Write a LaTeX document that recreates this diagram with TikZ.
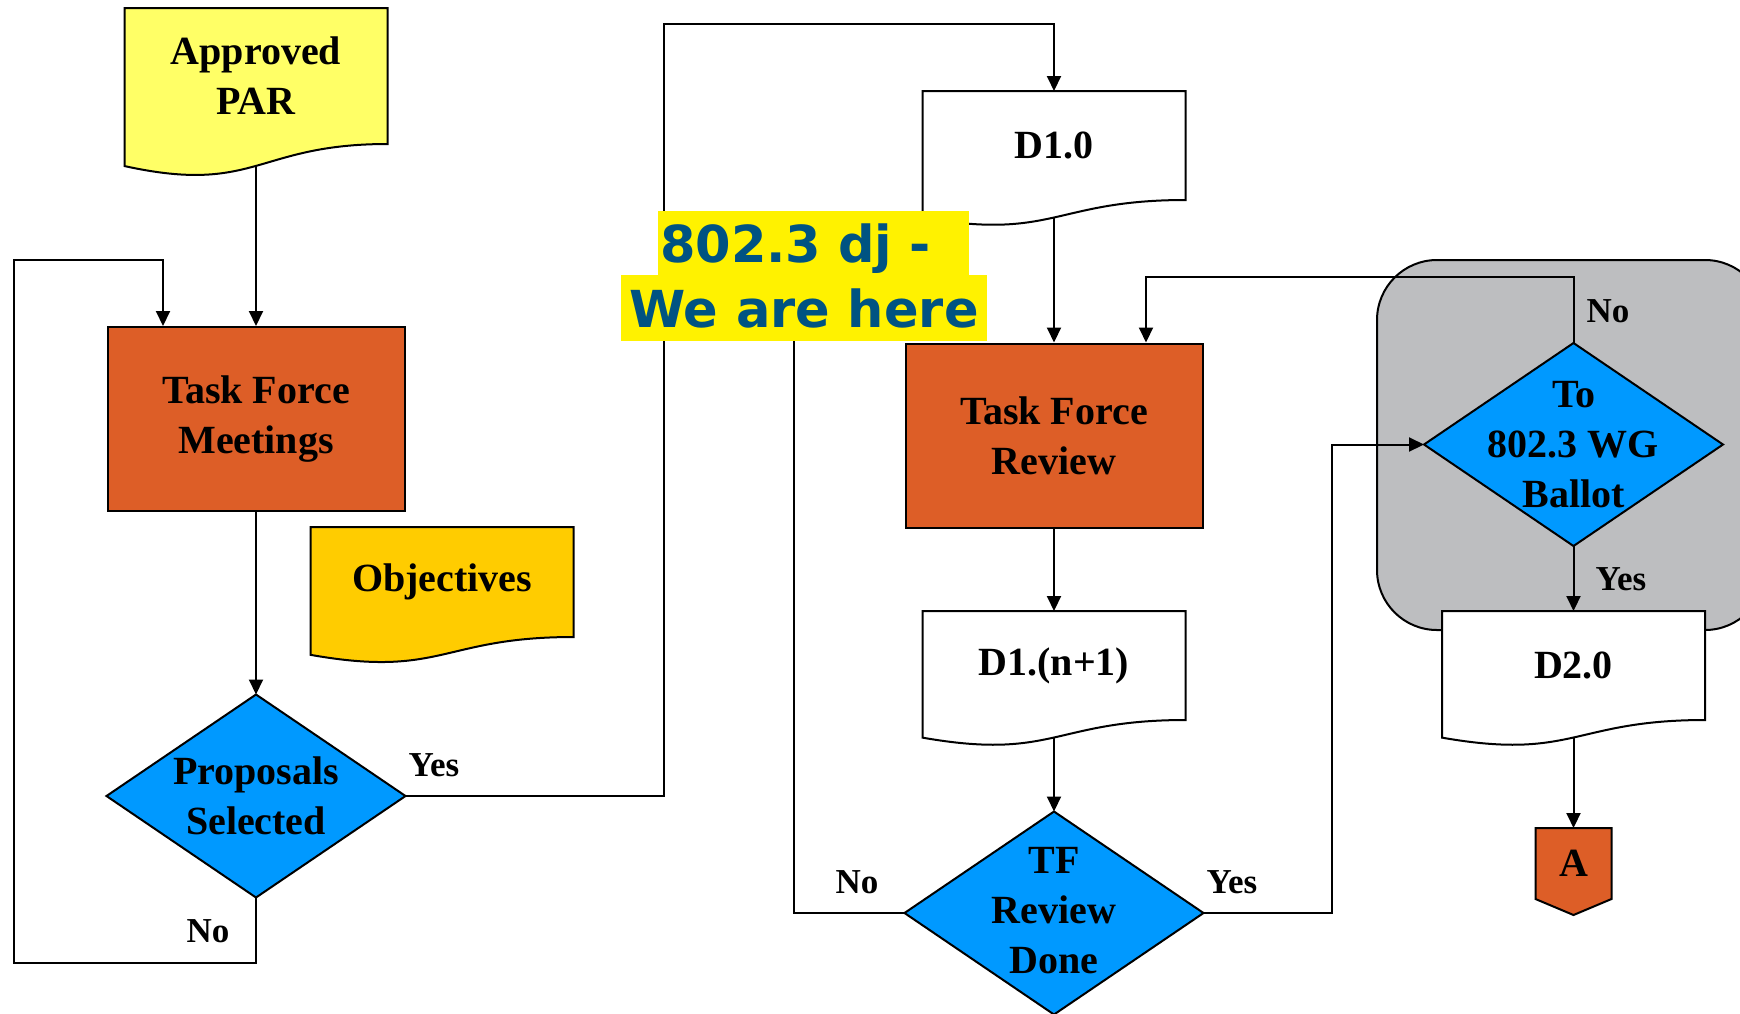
\documentclass[tikz,border=0pt]{standalone}
\usepackage{fontspec}
\setmainfont{Liberation Serif}
\newfontfamily\herefont{DejaVu Sans}
\usepackage{tikz}
\usetikzlibrary{arrows.meta}

\pgfdeclarelayer{back}
\pgfdeclarelayer{shapes}
\pgfsetlayers{back,shapes,main}

\definecolor{parYellow}{RGB}{255,255,102}
\definecolor{objGold}{RGB}{255,204,0}
\definecolor{tfOrange}{RGB}{221,94,39}
\definecolor{choiceBlue}{RGB}{0,153,255}
\definecolor{panelGray}{RGB}{189,190,192}
\definecolor{hereBlue}{RGB}{0,83,130}

\begin{document}
\begin{tikzpicture}[x = 1pt, y = -1pt, line width = 2pt,
    every node/.style = { font = \fontsize{40}{50}\selectfont\bfseries, align = center, inner sep = 0pt },
    outline/.style = { draw, line width = 2pt },
    box/.style = { draw, fill = tfOrange, minimum width = 297pt, minimum height = 184pt },
    doc/.style = { minimum width = 261pt },
    choice/.style = { minimum width = 297pt, minimum height = 201pt },
    lab/.style = { font = \fontsize{35}{40}\selectfont\bfseries },
    arr/.style = { outline, -{Triangle[length = 15pt, width = 14pt]} },
    here/.style = { fill = yellow, text = hereBlue, font = \herefont\fontsize{51}{60}\selectfont\bfseries,
      text height = 39pt, text depth = 0pt }]
  \useasboundingbox (0,0) rectangle (1740,1013);

  \node [doc, minimum height = 134pt] (par) at (256,76) {Approved\\PAR};
  \node [box] (tfm) at (256,419) {Task Force\\Meetings};
  \node [doc, minimum height = 108pt] (obj) at (442,582) {Objectives};
  \node [choice] (ps) at (256,796) {Proposals\\Selected};
  \node [doc, minimum height = 107pt] (d10) at (1054,145.5) {D1.0};
  \node [box] (tfr) at (1054,435.5) {Task Force\\Review};
  \node [doc, minimum height = 107pt] (d1n) at (1054,665.5) {D1.(n+1)};
  \node [choice] (tfd) at (1054,913) {\raisebox{4pt}{\begin{tabular}{@{}c@{}}TF\\Review\\Done\end{tabular}}};
  \node [choice] (ballot) at (1573.5,444.5) {To\\802.3 WG\\Ballot};
  \node [doc, minimum height = 107pt] (d20) at (1573.5,665.5) {D2.0};
  \node [minimum width = 74pt, minimum height = 69pt] (a) at (1573.5,863.5) {A};

  \begin{pgfonlayer}{back}
    \path [outline, fill = panelGray, rounded corners = 60pt] (1377,260) rectangle (1765,630);
  \end{pgfonlayer}

  \begin{pgfonlayer}{shapes}
    \foreach \n/\c/\h in {par/parYellow/167, obj/objGold/135, d10/white/133.5, d1n/white/133.5, d20/white/133.5} {
      \path [outline, fill = \c] (\n.north west) -- (\n.north east) -- (\n.south east)
        .. controls (\n.south) and ([yshift = -0.3055*\h]\n.south) .. ([yshift = -0.132*\h]\n.south west) -- cycle;
      \coordinate (\n-b) at ([yshift = -0.131*\h]\n.south);
    }
    \foreach \n in {ps, tfd, ballot}
      \path [outline, fill = choiceBlue] (\n.north) -- (\n.east) -- (\n.south) -- (\n.west) -- cycle;
    \path [outline, fill = tfOrange] (a.north west) -- (a.north east) -- (a.south east)
      -- ([yshift = -16]a.south) -- (a.south west) -- cycle;
  \end{pgfonlayer}

  \path [arr] (par-b) -- (tfm.north);
  \path [arr] (tfm.south) -- (ps.north);
  \path [arr] (ps.south) |- (14,963) -- (14,260) -| ([xshift = -93]tfm.north);
  \path [arr] (ps.east) -| (664,24) -| (d10.north);
  \path [arr] (d10-b) -- (tfr.north);
  \path [arr] (tfr.south) -- (d1n.north);
  \path [arr] (d1n-b) -- (tfd.north);
  \coordinate (noEnd) at (793.5,341);
  \path [outline] (tfd.west) -| (noEnd);
  \path [arr] (tfd.east) -- (1332,913) |- (ballot.west);
  \path [arr] (ballot.north) |- (1146,277) -- ([xshift = 92]tfr.north);
  \path [arr] (ballot.south) -- (d20.north);
  \path [arr] (d20-b) -- (a.north);

  \node [lab] (psYes) at (434,765) {Yes};
  \node [lab] (psNo) at (208,931) {No};
  \node [lab] (tfdNo) at (857,882) {No};
  \node [lab] (tfdYes) at (1232,882) {Yes};
  \node [lab] (balNo) at (1608,311) {No};
  \node [lab] (balYes) at (1621,579) {Yes};

  \node [here, text width = 307pt, align = left, inner xsep = 2pt, minimum height = 64pt] (dj) at (813.5,243) {802.3 dj -};
  \node [here, minimum width = 366pt, minimum height = 66pt] (we) at (804,308) {We are here};
\end{tikzpicture}
\end{document}
